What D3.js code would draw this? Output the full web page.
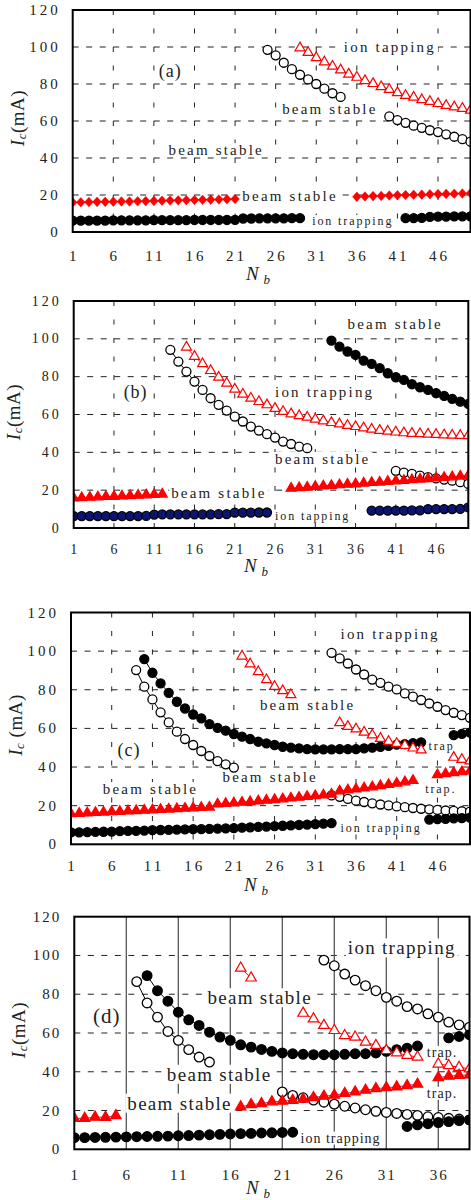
<!DOCTYPE html>
<html>
<head>
<meta charset="utf-8">
<script src="https://cdn.jsdelivr.net/npm/d3@7"></script>
<style>
  body { margin: 0; background: #fff; }
  svg { display: block; }
  text { font-family: "Liberation Serif", "Times New Roman", serif; fill: #222; }
</style>
</head>
<body>
<script>
// ---------------------- data ----------------------
var xTicks = [1, 6, 11, 16, 21, 26, 31, 36, 41, 46];
var xTicksD = [1, 6, 11, 16, 21, 26, 31, 36];
var yTicks = [0, 20, 40, 60, 80, 100, 120];

// panel (a)
var aOpenCircles = [
  { from: 25, values: [98.5, 95.5, 91.5, 88, 85, 82.5, 80, 77.5, 75, 73] },
  { from: 40, values: [62.5, 60.5, 59, 57.5, 56.3, 55, 54, 52.8, 51.5, 50.2, 48.8] }
];
var aOpenTriangles = [
  { from: 29, values: [99.5, 97, 94.2, 91.9, 89.6, 87.6, 85.3, 83.6, 81.8, 80.2, 78.5, 77, 75.3, 73.8, 72.8, 71.5, 70.5, 69.4, 68.4, 67.6, 66.8, 65.8] }
];
var aRedDiamonds = [
  { from: 1, values: [16.0, 16.1, 16.2, 16.3, 16.3, 16.4, 16.5, 16.5, 16.6, 16.7, 16.8, 16.9, 17.0, 17.1, 17.2, 17.3, 17.4, 17.5, 17.6, 17.7, 17.8] },
  { from: 36, values: [19.0, 19.2, 19.4, 19.5, 19.7, 19.9, 20.0, 20.1, 20.2, 20.4, 20.5, 20.6, 20.7, 20.8, 21.0] }
];
var aBlackDots = [
  { from: 1, values: [6.2, 6.2, 6.2, 6.2, 6.2, 6.3, 6.3, 6.3, 6.3, 6.3, 6.4, 6.4, 6.4, 6.4, 6.4, 6.5, 6.5, 6.5, 6.5, 6.5, 6.6, 7.3, 7.3, 7.4, 7.4, 7.4, 7.4, 7.5, 7.5] },
  { from: 42, values: [7.5, 7.5, 7.6, 8.2, 8.3, 8.3, 8.4, 8.4, 8.5] }
];

// panel (b)
var bOpenCircles = [
  { from: 13, values: [94.2, 88, 82.7, 77.4, 73, 68.6, 65.1, 62.1, 58.9, 56.3, 53.6, 51.5, 49.6, 47.8, 45.7, 44.4, 43.0, 42.2] },
  { from: 41, values: [30.2, 29.3, 28.6, 27.7, 26.9, 26.2, 25.6, 25.0, 24.2, 23.3] }
];
var bOpenTriangles = [
  { from: 15, values: [95.6, 90.7, 86.8, 83.2, 79.7, 76.5, 73.4, 70.7, 68.6, 66.8, 65.1, 63.2, 61.6, 60.3, 59.3, 58.5, 57.5, 56.6, 55.7, 55.0, 54.2, 53.6, 52.9, 52.2, 51.6, 51.1, 50.7, 50.3, 50.0, 49.8, 49.6, 49.4, 49.2, 49.0, 48.9, 48.8] }
];
var bBlackDots = [
  { from: 33, values: [99.1, 95.9, 93.3, 91.5, 88.5, 86.8, 84.5, 81.8, 79.7, 78.3, 76.0, 74.4, 73.0, 71.3, 69.8, 68.3, 66.8, 65.6] }
];
var bRedTriangles = [
  { from: 1, values: [15.8, 16.0, 16.2, 16.4, 16.6, 16.7, 16.9, 17.1, 17.3, 17.5, 17.7, 17.9] },
  { from: 28, values: [21.0, 21.3, 21.5, 21.9, 22.2, 22.4, 22.8, 23.1, 23.3, 23.7, 24.0, 24.2, 24.6, 24.9, 25.1, 25.5, 25.8, 26.0, 26.4, 26.7, 27.0, 27.4, 27.8] }
];
var bBlueDots = [
  { from: 1, values: [6.3, 6.3, 6.3, 6.3, 6.3, 6.3, 6.3, 6.3, 6.3, 6.4, 7.1, 7.2, 7.2, 7.2, 7.2, 7.2, 7.2, 7.2, 7.3, 7.3, 8.1, 8.1, 8.1, 8.2, 8.2] },
  { from: 38, values: [9.2, 9.2, 9.2, 9.2, 9.2, 9.3, 9.3, 10.0, 10.0, 10.0, 10.0, 10.1, 10.9] }
];

// panel (c)
var cBlackDotsUpper = [
  { from: 10, values: [95.9, 88.8, 83.3, 78.4, 73.8, 70.3, 67.2, 65.2, 62.2, 60.3, 58.8, 57.1, 55.7, 54.5, 53.1, 52.2, 51.4, 50.5, 50.0, 49.7, 49.3, 49.1, 49.1, 49.1, 49.3, 49.3, 49.3, 49.7, 50.0, 50.5, 51.0, 51.6, 51.9, 52.4, 52.8] },
  { from: 48, values: [56.5, 57.2, 57.8] }
];
var cOpenCircles = [
  { from: 9, values: [90.2, 81.6, 75, 68.3, 63.1, 58.3, 54.5, 51.4, 48.3, 45.7, 43.1, 41.4, 39.7] },
  { from: 33, values: [25.3, 24.6, 23.5, 22.6, 21.9, 21.2, 20.6, 20.1, 19.6, 19.2, 18.8, 18.4, 18.1, 17.8, 17.5, 17.3, 17.1, 16.9] },
  { from: 33, values: [99.1, 96.2, 93.6, 90.5, 87.9, 85.3, 83.6, 81.6, 80.2, 78.1, 76.4, 74.7, 72.9, 71.2, 69.5, 68.1, 66.9, 65.5] }
];
var cOpenTriangles = [
  { from: 22, values: [97.4, 93.3, 89.3, 85.2, 81.7, 79.5, 77.4] },
  { from: 34, values: [62.9, 61, 59.7, 58, 56.6, 54.8, 53.2, 52.2, 51.2, 49.8, 48.8] },
  { from: 48, values: [45, 43.9, 43.1] }
];
var cRedTriangles = [
  { from: 1, values: [15.8, 16.0, 16.2, 16.4, 16.6, 16.8, 17.0, 17.2, 17.4, 17.6, 17.8, 18.0, 18.2, 18.4, 18.6, 18.8, 19.0, 19.2, 20.8, 21.1, 21.4, 21.7, 22.0, 22.4, 22.8, 23.1, 23.5, 23.9, 24.3, 24.7, 25.1, 25.5, 25.9, 27.6, 28.1, 28.6, 29.1, 29.7, 30.3, 30.9, 31.6, 32.3, 33.0] },
  { from: 46, values: [36.0, 36.5, 37.0, 37.5, 38.0] }
];
var cBlackDotsLower = [
  { from: 1, values: [6.2, 6.2, 6.3, 6.4, 6.5, 6.6, 6.8, 6.9, 7.0, 7.1, 7.3, 7.4, 7.5, 7.6, 7.7, 7.8, 7.9, 8.0, 8.1, 8.2, 8.4, 8.6, 8.8, 9.0, 9.2, 9.4, 9.6, 9.8, 10.0, 10.2, 10.4, 10.7, 11.0] },
  { from: 45, values: [12.8, 13.0, 13.2, 13.4, 13.6, 13.8] }
];

// panel (d)
var dBlackDotsUpper = [
  { from: 8, values: [89.6, 81.8, 76.4, 70.7, 66.8, 63.9, 60.4, 57.9, 56.2, 53.9, 52.7, 51.5, 50.5, 49.7, 49.3, 49.0, 48.8, 48.8, 48.8, 49.0, 49.3, 49.3, 49.7, 50.5, 51.4, 52.2, 53.3] },
  { from: 37, values: [57.5, 58.2, 59.1] }
];
var dOpenCircles = [
  { from: 7, values: [86.5, 75.5, 68.2, 60.8, 56.2, 51.4, 47.6, 45] },
  { from: 21, values: [29.6, 27.8, 26.6, 25.4, 24.3, 23.3, 22.2, 21.3, 20.4, 19.6, 19.0, 18.5, 18.0, 17.5, 16.8, 16.4, 16.0, 15.6, 15.2] },
  { from: 25, values: [97.6, 94.7, 90.4, 87.3, 84.4, 81.8, 78.4, 76.4, 73.6, 72.4, 69.9, 68.2, 65.6, 64.2, 63] }
];
var dOpenTriangles = [
  { from: 17, values: [93.5, 88.4] },
  { from: 23, values: [70.2, 67.3, 63.9, 61.3, 58.7, 57.9, 55.3, 53.6, 51.0, 49.8, 48.5, 47.6] },
  { from: 36, values: [44.0, 43.2, 42.3, 41.5] }
];
var dRedTriangles = [
  { from: 1, values: [15.9, 16.0, 16.6, 16.5, 17.4] },
  { from: 17, values: [21.9, 23.1, 23.6, 24.5, 24.8, 25.3, 25.9, 26.7, 27.4, 27.9, 28.8, 29.6, 30.5, 31.3, 31.8, 32.2, 32.9, 33.6] },
  { from: 36, values: [37.0, 37.7, 38.2, 38.4] }
];
var dBlackDotsLower = [
  { from: 1, values: [6.0, 6.0, 6.1, 6.2, 6.3, 6.4, 6.5, 6.6, 6.7, 6.8, 7.0, 7.1, 7.3, 7.5, 7.7, 7.9, 8.1, 8.2, 8.4, 8.5, 8.7, 8.8] },
  { from: 33, values: [11.8, 12.6, 13.2, 13.8, 14.3, 14.8, 15.2] }
];

// text labels inside the plots: [text, N_b, I_c]
var aLabels = [["(a)", 11.6, 87], ["ion tapping", 34.4, 100], ["beam stable", 26.8, 66.3], ["beam stable", 12.8, 44.3], ["beam stable", 21.9, 19.6], ["ion trapping", 30.5, 5.9]];
var bLabels = [["beam stable", 35, 108], ["(b)", 7.2, 72], ["ion trapping", 26.0, 72], ["beam stable", 26, 36.5], ["beam stable", 13.1, 18.5], ["ion tapping", 26, 6.3]];
var cLabels = [["ion trapping", 34.1, 108.8], ["beam stable", 24.2, 72], ["(c)", 6.7, 48.8], ["trap", 44.9, 50.9], ["beam stable", 19.6, 34.8], ["beam stable", 4.9, 28.6], ["trap.", 44.5, 28.6], ["ion trapping", 34.1, 8.4]];
var dLabels = [["ion trapping", 27.3, 103.9], ["beam stable", 13.8, 78.2], ["(d)", 2.8, 69], ["beam stable", 9.9, 38.7], ["beam stable", 6.1, 23.8], ["trap.", 34.9, 50], ["trap.", 34.9, 28.9], ["ion trapping", 22.75, 5.8]];

// ---------------------- styles ----------------------
var openCircle = { shape: "circle", fill: "#fff", stroke: "#000", line: "#000" };
var blackDot = { shape: "circle", fill: "#000", stroke: "#000", line: "#000" };
var navyDot = { shape: "circle", fill: "#0b1470", stroke: "#000", line: "#000" };
var openTri = { shape: "triangle", fill: "#fff", stroke: "#f00", line: "#f00" };
var redTri = { shape: "triangle", fill: "#f00", stroke: "#f00", line: "#f00" };
var redTriD = { shape: "triangle", fill: "#f00", stroke: "#f00", line: "#7a3fa0" };
var redDiamond = { shape: "diamond", fill: "#f00", stroke: "#f00", line: "#f00" };

var svg = d3.select("body").append("svg")
  .attr("width", 471)
  .attr("height", 1200);

var panels = [
  { id: "a", left: 72.7, right: 470.5, top: 10, bottom: 232, xMax: 50, ticks: xTicks, r: 4.5, tri: 10, big: 15, bigLS: 2.2, small: 12, smallLS: 1.9, tickFs: 15, tickLS: 3, xlabDy: 24, ic: [17, 118], icText: "(mA)", nb: [258, 280],
    series: [[aOpenCircles, openCircle], [aBlackDots, blackDot], [aRedDiamonds, redDiamond], [aOpenTriangles, openTri]], labels: aLabels, grid: "dash" },
  { id: "b", left: 73.7, right: 468.3, top: 301, bottom: 528, xMax: 50, ticks: xTicks, r: 4.5, tri: 10, big: 15, bigLS: 2.2, small: 12, smallLS: 1.9, tickFs: 14, tickLS: 3, xlabDy: 21, ic: [13, 412], icText: "(mA)", nb: [256, 572],
    series: [[bOpenCircles, openCircle], [bBlueDots, navyDot], [bBlackDots, blackDot], [bRedTriangles, redTri], [bOpenTriangles, openTri]], labels: bLabels, grid: "dash" },
  { id: "c", left: 71, right: 470, top: 612.5, bottom: 844.3, xMax: 50, ticks: xTicks, r: 4.5, tri: 10, big: 15, bigLS: 2.2, small: 12, smallLS: 1.9, tickFs: 15, tickLS: 3, xlabDy: 21.5, ic: [15, 725], icText: " (mA)", nb: [256, 891],
    series: [[cOpenCircles, openCircle], [cBlackDotsUpper, blackDot], [cBlackDotsLower, blackDot], [cOpenTriangles, openTri], [cRedTriangles, redTri]], labels: cLabels, grid: "dash" },
  { id: "d", left: 74.3, right: 469.5, top: 916.7, bottom: 1149.3, xMax: 39, ticks: xTicksD, r: 4.8, tri: 10.5, big: 19, bigLS: 1.3, small: 14, smallLS: 1, tickFs: 15, tickLS: 2, xlabDy: 25.5, ic: [18, 1030], icText: "(mA)", nb: [258, 1194],
    series: [[dOpenCircles, openCircle], [dBlackDotsUpper, blackDot], [dBlackDotsLower, blackDot], [dOpenTriangles, openTri], [dRedTriangles, redTriD]], labels: dLabels, grid: "solid" }
];

function diamondPath(w, h) {
  return "M0," + (-h) + "L" + w + ",0L0," + h + "L" + (-w) + ",0Z";
}

// region names are written large, the small boxed notes ("trap.", low "ion trapping") small
function isBig(d) {
  return d[0].indexOf("beam") === 0 || (d[0].indexOf("ion") === 0 && d[2] > 50);
}

panels.forEach(function (p) {
  var x = d3.scaleLinear().domain([1, p.xMax]).range([p.left, p.right]);
  var y = d3.scaleLinear().domain([0, 120]).range([p.bottom, p.top]);
  var g = svg.append("g");

  var clipId = "clip-" + p.id;
  g.append("clipPath").attr("id", clipId)
    .append("rect")
    .attr("x", p.left).attr("y", p.top)
    .attr("width", p.right - p.left).attr("height", p.bottom - p.top);

  // gridlines
  var grid = g.append("g");
  grid.selectAll("line.h").data(yTicks.slice(1, -1)).enter().append("line")
    .attr("x1", p.left).attr("x2", p.right)
    .attr("y1", function (d) { return y(d); }).attr("y2", function (d) { return y(d); })
    .attr("stroke", "#222").attr("stroke-width", 1)
    .attr("stroke-dasharray", "6,7.5");
  grid.selectAll("line.v").data(p.ticks.slice(1)).enter().append("line")
    .attr("x1", function (d) { return x(d); }).attr("x2", function (d) { return x(d); })
    .attr("y1", p.top).attr("y2", p.bottom)
    .attr("stroke", p.grid === "solid" ? "#555" : "#222")
    .attr("stroke-width", p.grid === "solid" ? 1.3 : 1)
    .attr("stroke-dasharray", p.grid === "solid" ? null : "5,13.5");

  // labels with white boxes that break the grid
  var labG = g.append("g");
  var lab = labG.selectAll("g").data(p.labels).enter().append("g");
  lab.append("text")
    .attr("x", function (d) { return x(d[1]); })
    .attr("y", function (d) { return y(d[2]); })
    .attr("dominant-baseline", "central")
    .style("font-size", function (d) {
      if (d[0].charAt(0) === "(") return (p.id === "d" ? 21 : 18) + "px";
      return (isBig(d) ? p.big : p.small) + "px";
    })
    .style("letter-spacing", function (d) {
      if (d[0].charAt(0) === "(") return "1px";
      return (isBig(d) ? p.bigLS : p.smallLS) + "px";
    })
    .text(function (d) { return d[0]; });
  lab.each(function () {
    var t = d3.select(this).select("text");
    var bb = t.node().getBBox();
    d3.select(this).insert("rect", "text")
      .attr("x", bb.x - 2).attr("y", bb.y + 1)
      .attr("width", bb.width + 4).attr("height", bb.height - 2)
      .attr("fill", "#fff");
  });

  // series
  var data = g.append("g").attr("clip-path", "url(#" + clipId + ")");
  var line = d3.line().x(function (d) { return x(d.x); }).y(function (d) { return y(d.y); });
  p.series.forEach(function (s) {
    var st = s[1];
    s[0].forEach(function (seg) {
      var pts = seg.values.map(function (v, i) { return { x: seg.from + i, y: v }; });
      data.append("path").datum(pts)
        .attr("d", line).attr("fill", "none")
        .attr("stroke", st.line).attr("stroke-width", 1);
      var m = data.append("g").selectAll("path").data(pts).enter().append("path")
        .attr("transform", function (d) { return "translate(" + x(d.x) + "," + y(d.y) + ")"; })
        .attr("fill", st.fill).attr("stroke", st.stroke).attr("stroke-width", 1.3);
      if (st.shape === "circle") {
        m.attr("d", d3.symbol().type(d3.symbolCircle).size(Math.PI * p.r * p.r));
      } else if (st.shape === "triangle") {
        m.attr("d", d3.symbol().type(d3.symbolTriangle).size(p.tri * p.tri * Math.sqrt(3) / 4))
          .attr("stroke-width", 1.2);
      } else {
        m.attr("d", diamondPath(4.3, 4.8)).attr("stroke-width", 0.5);
      }
    });
  });

  // frame
  g.append("rect")
    .attr("x", p.left).attr("y", p.top)
    .attr("width", p.right - p.left).attr("height", p.bottom - p.top)
    .attr("fill", "none").attr("stroke", "#000").attr("stroke-width", 2);

  // tick labels
  g.selectAll("text.yt").data(yTicks).enter().append("text")
    .attr("x", p.left - 15 + p.tickLS)
    .attr("y", function (d) { return y(d); })
    .attr("text-anchor", "end").attr("dominant-baseline", "central")
    .style("font-size", p.tickFs + "px").style("letter-spacing", p.tickLS + "px")
    .text(function (d) { return d; });
  g.selectAll("text.xt").data(p.ticks).enter().append("text")
    .attr("x", function (d) { return x(d) + p.tickLS / 2; })
    .attr("y", p.bottom + p.xlabDy)
    .attr("text-anchor", "middle").attr("dominant-baseline", "central")
    .style("font-size", p.tickFs + "px").style("letter-spacing", p.tickLS + "px")
    .text(function (d) { return d; });

  // axis titles
  var ic = g.append("text")
    .attr("transform", "translate(" + p.ic[0] + "," + p.ic[1] + ") rotate(-90)")
    .attr("text-anchor", "middle").attr("dominant-baseline", "central")
    .style("font-size", "19px").style("letter-spacing", "0.5px");
  ic.append("tspan").style("font-style", "italic").text("I");
  ic.append("tspan").style("font-style", "italic").style("font-size", "13px").attr("dy", 4).text("c");
  ic.append("tspan").attr("dy", -4).text(p.icText);

  var nb = g.append("text")
    .attr("x", p.nb[0]).attr("y", p.nb[1])
    .attr("text-anchor", "middle")
    .style("font-size", "19px").style("font-style", "italic");
  nb.append("tspan").text("N");
  nb.append("tspan").attr("dx", 5).attr("dy", 4).style("font-size", "13px").text("b");
});
</script>
</body>
</html>
